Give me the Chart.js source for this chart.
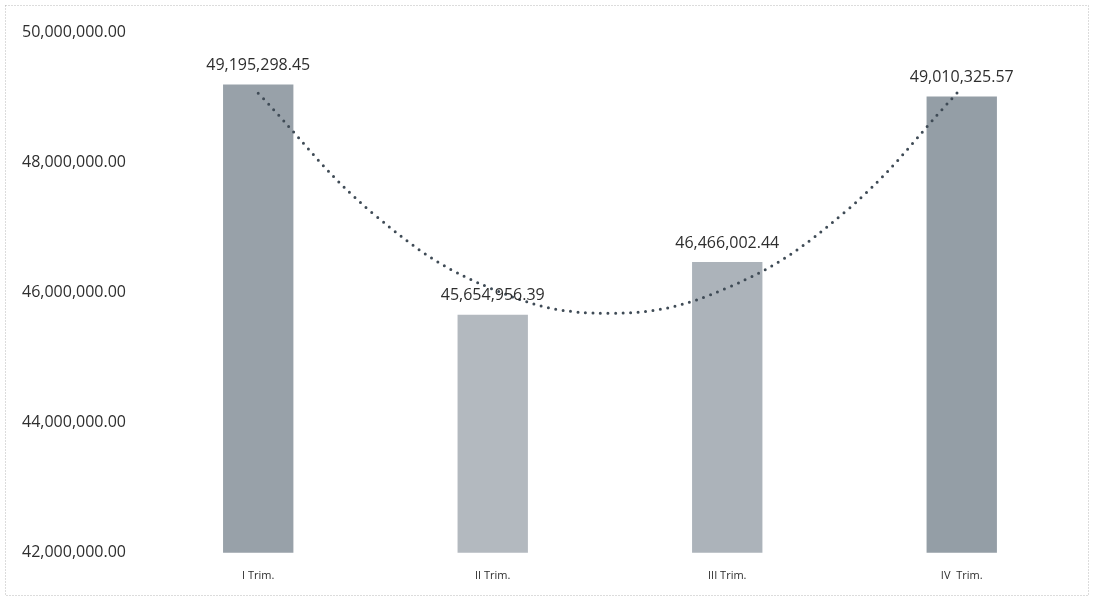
<!DOCTYPE html>
<html>
<head>
<meta charset="utf-8">
<script src="https://cdn.jsdelivr.net/npm/chart.js@4"></script>
<style>
  html, body { margin: 0; padding: 0; background: #fff; }
  #wrap { width: 1093px; height: 600px; position: relative; }
</style>
</head>
<body>
<div id="wrap"><canvas id="chart" width="1093" height="600"></canvas></div>
<script>
const trimestres = ["I Trim.", "II Trim.", "III Trim.", "IV  Trim."];
const importes = [49195298.45, 45654956.39, 46466002.44, 49010325.57];
const coloresBarra = ["#98a1a9", "#b3b9bf", "#acb3ba", "#949ea6"];

const tendenciaX = [0, 0.5, 1, 1.5, 2, 2.5, 3];
const tendenciaY = [49060000, 47180000, 46050000, 45680000, 46070000, 47230000, 49140000];

const yTicks = [42000000, 44000000, 46000000, 48000000, 50000000];

const fmt = (v) =>
  v.toLocaleString("en-US", { minimumFractionDigits: 2, maximumFractionDigits: 2 });

const marco = {
  id: "marco",
  beforeDraw(chart) {
    const ctx = chart.ctx;
    ctx.save();
    ctx.strokeStyle = "#b8b8b8";
    ctx.setLineDash([1, 2]);
    ctx.lineWidth = 1;
    ctx.strokeRect(5.5, 5.5, 1083, 590);
    ctx.restore();
  },
};

const etiquetas = {
  id: "etiquetas",
  afterDatasetsDraw(chart) {
    const ctx = chart.ctx;
    const meta = chart.getDatasetMeta(1);
    ctx.save();
    ctx.font = "16px 'Open Sans'";
    ctx.fillStyle = "#2e2e2e";
    ctx.textAlign = "center";
    ctx.textBaseline = "middle";
    meta.data.forEach((bar, i) => {
      ctx.fillText(fmt(importes[i]), bar.x, bar.y - 19);
    });
    ctx.restore();
  },
};

new Chart(document.getElementById("chart").getContext("2d"), {
  data: {
    labels: trimestres,
    datasets: [
      {
        type: "line",
        data: tendenciaX.map((x, i) => ({ x, y: tendenciaY[i] })),
        xAxisID: "xt",
        borderColor: "#3f4b56",
        borderWidth: 3,
        borderDash: [0, 7.5],
        borderCapStyle: "round",
        tension: 0.4,
        pointRadius: 0,
        fill: false,
        order: 0,
      },
      {
        type: "bar",
        data: importes,
        backgroundColor: coloresBarra,
        grouped: false,
        barPercentage: 0.6,
        categoryPercentage: 0.5,
        order: 1,
      },
    ],
  },
  options: {
    responsive: false,
    animation: false,
    layout: { padding: { left: 15, right: 14, top: 32, bottom: 10 } },
    plugins: {
      legend: { display: false },
      tooltip: { enabled: false },
    },
    scales: {
      x: {
        type: "category",
        grid: { display: false },
        border: { display: false },
        ticks: { color: "#2e2e2e", font: { family: "Open Sans", size: 11 }, padding: 8 },
      },
      xt: {
        type: "linear",
        display: false,
        min: -0.5,
        max: 3.5,
      },
      y: {
        min: 42000000,
        max: 50000000,
        grid: { display: false },
        border: { display: false },
        afterBuildTicks(scale) {
          scale.ticks = yTicks.map((v) => ({ value: v }));
        },
        ticks: {
          color: "#2e2e2e",
          font: { family: "Open Sans", size: 16 },
          padding: 7,
          callback: (v) => fmt(v),
        },
      },
    },
  },
  plugins: [marco, etiquetas],
});
</script>
</body>
</html>
